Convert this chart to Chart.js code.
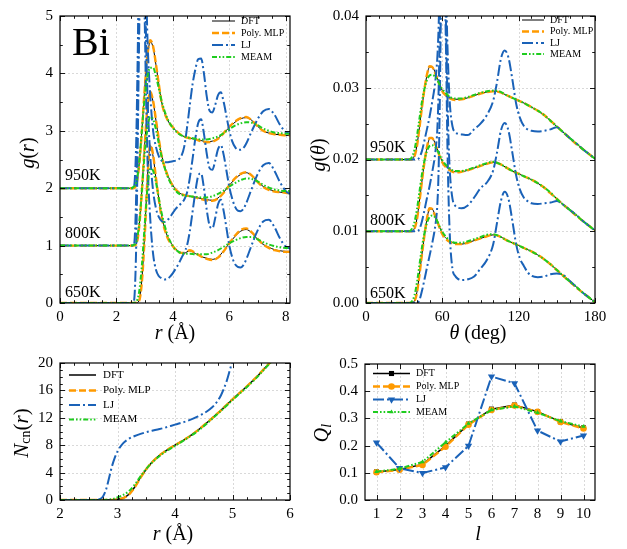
<!DOCTYPE html>
<html>
<head>
<meta charset="utf-8">
<script src="https://cdn.jsdelivr.net/npm/chart.js@4.4.1/dist/chart.umd.min.js"></script>
<style>
  html, body { margin: 0; padding: 0; background: #fff; }
  #wrap { position: relative; width: 627px; height: 549px; overflow: hidden; }
  canvas { position: absolute; }
</style>
</head>
<body>
<div id="wrap">
  <canvas id="pGr" width="310" height="345" style="left:0;top:0"></canvas>
  <canvas id="pGa" width="317" height="345" style="left:310px;top:0"></canvas>
  <canvas id="pNcn" width="310" height="204" style="left:0;top:345px"></canvas>
  <canvas id="pQl" width="317" height="204" style="left:310px;top:345px"></canvas>
</div>
<script>
// ---------------- data ----------------
const modelNames = ['DFT', 'Poly. MLP', 'LJ', 'MEAM'];
const temps = ['650K', '800K', '950K'];

// radial distribution g(r), curves stacked by +1 per temperature
const grOffset = [0, 1, 2];
const rGrid = [0, 2.5, 2.6, 2.7, 2.8, 2.9, 3.0, 3.1, 3.2, 3.3, 3.4, 3.5, 3.6, 3.8, 4.0, 4.2, 4.4, 4.6, 4.8, 5.0,
  5.2, 5.4, 5.6, 5.8, 6.0, 6.2, 6.4, 6.6, 6.8, 7.0, 7.2, 7.4, 7.6, 7.8, 8.0, 8.15];
const grDFT650 = [0, 0, 0, 0, 0.04, 0.4, 1.2, 2.2, 2.74, 2.55, 2.17, 1.82, 1.52, 1.17, 1.0, 0.9, 0.87, 0.91, 0.86, 0.81,
  0.78, 0.76, 0.8, 0.91, 1.04, 1.16, 1.25, 1.28, 1.22, 1.11, 1.02, 0.97, 0.93, 0.91, 0.9, 0.9];
const grMLP650 = [0, 0, 0, 0, 0.03, 0.36, 1.15, 2.18, 2.76, 2.58, 2.18, 1.81, 1.5, 1.15, 0.99, 0.89, 0.87, 0.92, 0.87, 0.81,
  0.77, 0.75, 0.79, 0.9, 1.04, 1.17, 1.27, 1.3, 1.23, 1.12, 1.02, 0.96, 0.92, 0.9, 0.89, 0.89];
const grMEAM650 = [0, 0, 0, 0.02, 0.18, 0.65, 1.35, 2.0, 2.34, 2.3, 2.1, 1.83, 1.57, 1.2, 0.99, 0.89, 0.86, 0.86, 0.85, 0.85,
  0.85, 0.88, 0.92, 0.98, 1.04, 1.09, 1.13, 1.15, 1.15, 1.11, 1.06, 1.02, 0.99, 0.97, 0.96, 0.96];
const grDFT800 = [0, 0, 0, 0.03, 0.32, 0.95, 1.75, 2.38, 2.66, 2.5, 2.18, 1.86, 1.58, 1.25, 1.05, 0.93, 0.88, 0.86, 0.84, 0.82,
  0.8, 0.79, 0.83, 0.93, 1.05, 1.16, 1.24, 1.27, 1.22, 1.12, 1.03, 0.98, 0.95, 0.93, 0.92, 0.91];
const grMLP800 = [0, 0, 0, 0.02, 0.3, 0.93, 1.74, 2.4, 2.68, 2.52, 2.19, 1.86, 1.57, 1.24, 1.04, 0.93, 0.88, 0.86, 0.84, 0.81,
  0.79, 0.78, 0.82, 0.92, 1.05, 1.17, 1.25, 1.28, 1.22, 1.11, 1.02, 0.97, 0.94, 0.93, 0.92, 0.91];
const grMEAM800 = [0, 0, 0.01, 0.06, 0.35, 0.95, 1.6, 2.05, 2.24, 2.2, 2.02, 1.78, 1.55, 1.22, 1.02, 0.91, 0.87, 0.86, 0.85, 0.84,
  0.84, 0.86, 0.9, 0.96, 1.03, 1.09, 1.14, 1.17, 1.16, 1.12, 1.06, 1.01, 0.98, 0.96, 0.95, 0.95];
const grDFT950 = [0, 0, 0, 0.06, 0.4, 1.0, 1.72, 2.3, 2.55, 2.45, 2.15, 1.82, 1.5, 1.2, 1.06, 0.96, 0.9, 0.87, 0.85, 0.83,
  0.81, 0.82, 0.87, 0.96, 1.06, 1.15, 1.21, 1.23, 1.18, 1.08, 1.0, 0.96, 0.94, 0.93, 0.92, 0.92];
const grMLP950 = [0, 0, 0, 0.05, 0.38, 0.98, 1.72, 2.32, 2.58, 2.47, 2.16, 1.82, 1.5, 1.2, 1.06, 0.96, 0.9, 0.87, 0.85, 0.82,
  0.8, 0.81, 0.86, 0.96, 1.07, 1.16, 1.22, 1.24, 1.18, 1.08, 1.0, 0.96, 0.94, 0.93, 0.92, 0.92];
const grMEAM950 = [0, 0, 0.02, 0.1, 0.42, 1.0, 1.58, 1.95, 2.1, 2.1, 1.95, 1.74, 1.52, 1.22, 1.05, 0.95, 0.9, 0.88, 0.86, 0.85,
  0.85, 0.87, 0.9, 0.96, 1.03, 1.09, 1.13, 1.15, 1.14, 1.1, 1.04, 1.0, 0.97, 0.96, 0.95, 0.95];

const rGridLJ = [0, 2.5, 2.6, 2.65, 2.7, 2.75, 2.8, 2.85, 2.9, 2.95, 3.0, 3.05, 3.1,
  3.2, 3.3, 3.4, 3.5, 3.6, 3.7, 3.8, 3.9, 4.0, 4.1, 4.2, 4.3, 4.4, 4.5, 4.6, 4.7, 4.8, 4.9, 5.0, 5.1, 5.2, 5.3, 5.4,
  5.5, 5.6, 5.7, 5.8, 5.9, 6.0, 6.1, 6.2, 6.3, 6.4, 6.5, 6.6, 6.8, 7.0, 7.2, 7.4, 7.6, 7.8, 8.0, 8.15];
const grLJ650 = [0, 0, 0, 0.2, 1.0, 2.6, 4.5, 6.0, 6.6, 6.2, 5.0, 3.6, 2.5,
  1.45, 0.85, 0.58, 0.47, 0.43, 0.41, 0.42, 0.46, 0.52, 0.6, 0.68, 0.78, 0.88, 1.0, 1.25, 1.6, 1.95, 2.22, 2.26, 2.0, 1.62, 1.35, 1.3,
  1.48, 1.72, 1.8, 1.6, 1.3, 1.0, 0.8, 0.68, 0.63, 0.62, 0.66, 0.76, 1.02, 1.26, 1.42, 1.45, 1.32, 1.12, 0.98, 0.95];
const grLJ800 = [0, 0, 0, 0.15, 0.9, 2.4, 4.3, 5.8, 6.4, 6.0, 4.9, 3.6, 2.6,
  1.55, 0.95, 0.65, 0.5, 0.43, 0.41, 0.44, 0.5, 0.57, 0.64, 0.69, 0.74, 0.8, 0.92, 1.18, 1.52, 1.88, 2.14, 2.2, 1.95, 1.6, 1.35, 1.32,
  1.48, 1.68, 1.75, 1.58, 1.3, 1.02, 0.82, 0.68, 0.61, 0.6, 0.64, 0.74, 1.0, 1.24, 1.4, 1.44, 1.3, 1.1, 0.95, 0.9];
const grLJ950 = [0, 0, 0, 0.15, 0.8, 2.2, 4.0, 5.4, 6.0, 5.8, 4.8, 3.6, 2.6,
  1.6, 1.0, 0.72, 0.56, 0.48, 0.45, 0.45, 0.46, 0.47, 0.48, 0.5, 0.56, 0.72, 1.05, 1.45, 1.82, 2.08, 2.25, 2.26, 2.0, 1.6, 1.35, 1.32,
  1.45, 1.62, 1.67, 1.5, 1.25, 1.0, 0.82, 0.72, 0.67, 0.67, 0.7, 0.78, 1.0, 1.2, 1.34, 1.38, 1.28, 1.1, 0.98, 0.95];

// bond-angle distribution g(theta), curves stacked by +0.01 per temperature
const gaOffset = [0, 0.01, 0.02];
const thetaGrid = [0, 34, 36, 38, 40, 42, 44, 46, 48, 50, 52, 54, 56, 58, 60, 63, 66, 70, 75, 80,
  85, 90, 95, 100, 105, 110, 115, 120, 125, 130, 135, 140, 145, 150, 155, 160, 165, 170, 175, 180];
const gaDFT650 = [0, 0, 0, 0.0003, 0.0015, 0.004, 0.0068, 0.0094, 0.0118, 0.0131, 0.0131, 0.0124, 0.0115, 0.0105, 0.0097, 0.009, 0.0086, 0.0083, 0.0082, 0.0084,
  0.0087, 0.009, 0.0093, 0.0095, 0.0093, 0.0088, 0.0084, 0.008, 0.0076, 0.0072, 0.0067, 0.0061, 0.0054, 0.0046, 0.0038, 0.003, 0.0023, 0.0015, 0.0008, 0.0001];
const gaMLP650 = [0, 0, 0, 0.0002, 0.0014, 0.0039, 0.0068, 0.0095, 0.0119, 0.0132, 0.0131, 0.0123, 0.0114, 0.0104, 0.0096, 0.0089, 0.0085, 0.0082, 0.0082, 0.0084,
  0.0087, 0.009, 0.0093, 0.0095, 0.0093, 0.0088, 0.0084, 0.008, 0.0076, 0.0072, 0.0067, 0.0061, 0.0054, 0.0046, 0.0038, 0.003, 0.0022, 0.0015, 0.0008, 0.0001];
const gaMEAM650 = [0, 0, 0.0002, 0.001, 0.0028, 0.0053, 0.0078, 0.0098, 0.0112, 0.012, 0.0122, 0.012, 0.0114, 0.0106, 0.0099, 0.0092, 0.0087, 0.0084, 0.0084, 0.0086,
  0.0089, 0.0092, 0.0095, 0.0096, 0.0093, 0.0088, 0.0084, 0.008, 0.0076, 0.0072, 0.0067, 0.0061, 0.0054, 0.0046, 0.0038, 0.003, 0.0023, 0.0015, 0.0008, 0.0001];
const gaDFT800 = [0, 0, 0, 0.0004, 0.0017, 0.0042, 0.007, 0.0096, 0.0117, 0.0129, 0.013, 0.0124, 0.0115, 0.0105, 0.0097, 0.009, 0.0086, 0.0083, 0.0083, 0.0085,
  0.0088, 0.0091, 0.0094, 0.0096, 0.0094, 0.0089, 0.0084, 0.008, 0.0076, 0.0072, 0.0067, 0.0061, 0.0054, 0.0045, 0.0037, 0.003, 0.0023, 0.0015, 0.0008, 0.0001];
const gaMLP800 = [0, 0, 0, 0.0003, 0.0016, 0.0041, 0.007, 0.0097, 0.0118, 0.013, 0.013, 0.0123, 0.0114, 0.0104, 0.0096, 0.0089, 0.0085, 0.0082, 0.0083, 0.0085,
  0.0088, 0.0091, 0.0094, 0.0096, 0.0094, 0.0089, 0.0084, 0.008, 0.0076, 0.0072, 0.0067, 0.0061, 0.0053, 0.0045, 0.0037, 0.003, 0.0022, 0.0015, 0.0008, 0.0001];
const gaMEAM800 = [0, 0, 0.0003, 0.0012, 0.003, 0.0055, 0.008, 0.0099, 0.0112, 0.0119, 0.012, 0.0118, 0.0113, 0.0106, 0.0099, 0.0092, 0.0087, 0.0084, 0.0084, 0.0086,
  0.0089, 0.0092, 0.0095, 0.0097, 0.0094, 0.0089, 0.0084, 0.008, 0.0076, 0.0072, 0.0067, 0.0061, 0.0054, 0.0045, 0.0037, 0.003, 0.0023, 0.0015, 0.0008, 0.0001];
const gaDFT950 = [0, 0, 0, 0.0005, 0.0019, 0.0045, 0.0073, 0.0098, 0.0118, 0.0129, 0.0129, 0.0123, 0.0114, 0.0104, 0.0096, 0.009, 0.0086, 0.0084, 0.0084, 0.0086,
  0.0089, 0.0092, 0.0094, 0.0095, 0.0094, 0.009, 0.0086, 0.0082, 0.0078, 0.0073, 0.0068, 0.0062, 0.0054, 0.0046, 0.0038, 0.003, 0.0023, 0.0015, 0.0008, 0.0001];
const gaMLP950 = [0, 0, 0, 0.0004, 0.0018, 0.0044, 0.0073, 0.0099, 0.0119, 0.013, 0.0129, 0.0122, 0.0113, 0.0103, 0.0095, 0.0089, 0.0085, 0.0083, 0.0084, 0.0086,
  0.0089, 0.0092, 0.0094, 0.0095, 0.0094, 0.009, 0.0086, 0.0082, 0.0078, 0.0073, 0.0068, 0.0062, 0.0054, 0.0046, 0.0038, 0.003, 0.0022, 0.0015, 0.0008, 0.0001];
const gaMEAM950 = [0, 0, 0.0003, 0.0013, 0.0032, 0.0057, 0.0081, 0.0099, 0.0111, 0.0117, 0.0118, 0.0116, 0.0111, 0.0104, 0.0098, 0.0092, 0.0087, 0.0085, 0.0085, 0.0087,
  0.009, 0.0093, 0.0095, 0.0096, 0.0095, 0.009, 0.0086, 0.0082, 0.0078, 0.0073, 0.0068, 0.0062, 0.0054, 0.0046, 0.0038, 0.003, 0.0023, 0.0015, 0.0008, 0.0001];

const thetaGridLJ = [0, 40, 42, 44, 46, 48, 50, 52, 54, 55, 56, 57, 58, 59, 60, 61, 62, 63, 64, 65,
  66, 68, 70, 72, 75, 80, 85, 90, 95, 100, 103, 106, 109, 112, 115, 118, 121, 124, 127, 130,
  135, 140, 145, 150, 155, 160, 165, 170, 175, 180];
const gaLJ650 = [0, 0, 0.0004, 0.0017, 0.0033, 0.005, 0.0066, 0.0083, 0.0102, 0.0115, 0.0135, 0.018, 0.028, 0.042, 0.05, 0.05, 0.044, 0.034, 0.022, 0.014,
  0.009, 0.0047, 0.0038, 0.0034, 0.0032, 0.0033, 0.0037, 0.0048, 0.006, 0.0082, 0.0112, 0.0142, 0.0155, 0.0145, 0.0115, 0.0082, 0.0062, 0.0052, 0.0043, 0.0038,
  0.0036, 0.0037, 0.004, 0.0041, 0.0039, 0.0031, 0.0023, 0.0015, 0.0008, 0.0001];
const gaLJ800 = [0, 0, 0.0003, 0.0014, 0.003, 0.0047, 0.0063, 0.0082, 0.0103, 0.0118, 0.014, 0.019, 0.028, 0.038, 0.044, 0.043, 0.037, 0.028, 0.019, 0.012,
  0.008, 0.0045, 0.0036, 0.0033, 0.0032, 0.0036, 0.0047, 0.006, 0.0068, 0.0085, 0.011, 0.014, 0.0151, 0.014, 0.011, 0.0078, 0.0058, 0.0047, 0.0042, 0.0039,
  0.0038, 0.0039, 0.004, 0.0042, 0.0037, 0.003, 0.0023, 0.0015, 0.0008, 0.0001];
const gaLJ950 = [0, 0, 0.0003, 0.0012, 0.0027, 0.0043, 0.006, 0.008, 0.0102, 0.0118, 0.014, 0.018, 0.025, 0.032, 0.036, 0.035, 0.03, 0.023, 0.016, 0.011,
  0.0075, 0.0046, 0.0038, 0.0036, 0.0035, 0.0034, 0.0042, 0.005, 0.0062, 0.0082, 0.0108, 0.014, 0.0152, 0.0142, 0.0112, 0.0078, 0.0058, 0.0047, 0.0042, 0.004,
  0.0039, 0.004, 0.0042, 0.0045, 0.0038, 0.003, 0.0023, 0.0015, 0.0008, 0.0001];

// running coordination number N_cn(r)
const ncnR = [2.0, 2.6, 2.7, 2.75, 2.8, 2.85, 2.9, 2.95, 3.0, 3.1, 3.2, 3.3, 3.4, 3.5, 3.6, 3.7, 3.8, 3.9, 4.0, 4.2,
  4.4, 4.6, 4.7, 4.8, 4.9, 5.0, 5.2, 5.4, 5.6, 5.8];
const ncnDFT = [0, 0, 0, 0, 0, 0.01, 0.02, 0.05, 0.11, 0.3, 0.85, 1.9, 3.3, 4.5, 5.5, 6.3, 6.95, 7.5, 8.0, 9.0,
  10.2, 11.6, 12.35, 13.1, 13.9, 14.7, 16.2, 17.8, 19.6, 21.4];
const ncnMLP = [0, 0, 0, 0, 0, 0.01, 0.02, 0.04, 0.1, 0.28, 0.8, 1.85, 3.25, 4.5, 5.5, 6.3, 6.95, 7.5, 8.0, 9.0,
  10.2, 11.6, 12.35, 13.1, 13.9, 14.7, 16.2, 17.8, 19.6, 21.4];
const ncnLJ = [0, 0, 0.15, 0.55, 1.5, 3.1, 4.8, 6.1, 7.1, 8.3, 8.95, 9.35, 9.65, 9.9, 10.1, 10.3, 10.5, 10.75, 11.0, 11.5,
  12.2, 13.2, 14.0, 15.3, 17.4, 20.2, 23.0, 25.0, 27.0, 29.0];
const ncnMEAM = [0, 0, 0, 0, 0.03, 0.06, 0.12, 0.22, 0.38, 0.75, 1.3, 2.25, 3.45, 4.55, 5.45, 6.2, 6.85, 7.4, 7.9, 8.95,
  10.1, 11.5, 12.25, 13.0, 13.8, 14.6, 16.1, 17.7, 19.5, 21.3];

// bond-orientational order parameters Q_l
const lValues = [1, 2, 3, 4, 5, 6, 7, 8, 9, 10];
const qlDFT = [0.103, 0.112, 0.131, 0.199, 0.279, 0.334, 0.349, 0.325, 0.288, 0.265];
const qlMLP = [0.102, 0.111, 0.129, 0.196, 0.277, 0.331, 0.347, 0.324, 0.287, 0.263];
const qlLJ = [0.211, 0.117, 0.099, 0.12, 0.199, 0.454, 0.429, 0.255, 0.215, 0.237];
const qlMEAM = [0.104, 0.115, 0.14, 0.212, 0.281, 0.331, 0.344, 0.321, 0.29, 0.27];

// tick values
const grXTicks = [0, 2, 4, 6, 8];
const grYTicks = [0, 1, 2, 3, 4, 5];
const gaXTicks = [0, 60, 120, 180];
const gaYTicks = [0, 0.01, 0.02, 0.03, 0.04];
const ncnXTicks = [2, 3, 4, 5, 6];
const ncnYTicks = [0, 4, 8, 12, 16, 20];
const qlXTicks = lValues;
const qlYTicks = [0, 0.1, 0.2, 0.3, 0.4, 0.5];

// ---------------- styling ----------------
const SERIF = '"Liberation Serif", "DejaVu Serif", serif';
const it = px => 'italic ' + px + 'px ' + SERIF;
const rm = px => px + 'px ' + SERIF;
Chart.defaults.font.family = SERIF;
Chart.defaults.color = '#000';

const COLORS = { 'DFT': '#000000', 'Poly. MLP': '#ff9a00', 'LJ': '#1a62b8', 'MEAM': '#1fcc1f' };
const STYLE = {
  'DFT':       { borderWidth: 1.0, borderDash: [], order: 4 },
  'Poly. MLP': { borderWidth: 2.4, borderDash: [7, 3], order: 3 },
  'LJ':        { borderWidth: 2.0, borderDash: [11, 3, 2, 3], order: 2 },
  'MEAM':      { borderWidth: 2.0, borderDash: [5, 2, 1.6, 2, 1.6, 2], order: 1 }
};

function pts(xs, ys, off) { return xs.map((x, i) => ({ x: x, y: ys[i] + (off || 0) })); }

function lineSet(model, data, extra) {
  const s = STYLE[model];
  return Object.assign({
    label: model, data: data,
    borderColor: COLORS[model], backgroundColor: COLORS[model],
    borderWidth: s.borderWidth, borderDash: s.borderDash, order: s.order,
    pointRadius: 0, fill: false, cubicInterpolationMode: 'monotone'
  }, extra || {});
}

// ---------------- drawing helpers ----------------
function drawRich(ctx, segs, x, y, opt) {
  opt = opt || {};
  ctx.save();
  ctx.translate(x, y);
  if (opt.rot) ctx.rotate(opt.rot);
  let w = 0;
  segs.forEach(s => { ctx.font = s.f; s.w = ctx.measureText(s.t).width; w += s.w; });
  let cx = opt.align === 'left' ? 0 : -w / 2;
  ctx.textBaseline = opt.baseline || 'middle';
  ctx.textAlign = 'left';
  ctx.fillStyle = '#000';
  segs.forEach(s => { ctx.font = s.f; ctx.fillText(s.t, cx, s.dy || 0); cx += s.w; });
  ctx.restore();
}

function drawMarker(ctx, style, x, y, r, color, rot) {
  ctx.save();
  ctx.fillStyle = color;
  ctx.setLineDash([]);
  ctx.beginPath();
  if (style === 'rect') {
    const h = r * Math.SQRT1_2;
    ctx.rect(x - h, y - h, 2 * h, 2 * h);
  } else if (style === 'circle') {
    ctx.arc(x, y, r, 0, Math.PI * 2);
  } else if (style === 'triangle') {
    let a = (rot || 0) * Math.PI / 180;
    for (let k = 0; k < 3; k++) {
      const px = x + Math.sin(a) * r, py = y - Math.cos(a) * r;
      if (k === 0) ctx.moveTo(px, py); else ctx.lineTo(px, py);
      a += 2 * Math.PI / 3;
    }
    ctx.closePath();
  }
  ctx.fill();
  ctx.restore();
}

// grid, inward ticks on all sides, frame, free text and legend
const decorPlugin = {
  id: 'decor',
  beforeDatasetsDraw(chart, args, o) {
    const { ctx, chartArea: a } = chart;
    const xs = chart.scales.x, ys = chart.scales.y;
    ctx.save();
    ctx.strokeStyle = '#cfcfcf';
    ctx.lineWidth = 0.8;
    ctx.setLineDash([2, 2]);
    ctx.beginPath();
    xs.ticks.forEach(t => {
      const p = Math.round(xs.getPixelForValue(t.value)) + 0.5;
      if (p > a.left + 1 && p < a.right - 1) { ctx.moveTo(p, a.top); ctx.lineTo(p, a.bottom); }
    });
    ys.ticks.forEach(t => {
      const p = Math.round(ys.getPixelForValue(t.value)) + 0.5;
      if (p > a.top + 1 && p < a.bottom - 1) { ctx.moveTo(a.left, p); ctx.lineTo(a.right, p); }
    });
    ctx.stroke();
    ctx.restore();
  },
  afterDatasetsDraw(chart, args, o) {
    const { ctx, chartArea: a } = chart;
    const xs = chart.scales.x, ys = chart.scales.y;
    const major = 5, minor = 2.8;
    ctx.save();
    ctx.setLineDash([]);
    ctx.strokeStyle = '#000';
    ctx.lineWidth = 0.9;
    ctx.beginPath();
    const xTick = (v, len) => {
      const p = Math.round(xs.getPixelForValue(v)) + 0.5;
      ctx.moveTo(p, a.bottom); ctx.lineTo(p, a.bottom - len);
      ctx.moveTo(p, a.top); ctx.lineTo(p, a.top + len);
    };
    const yTick = (v, len) => {
      const p = Math.round(ys.getPixelForValue(v)) + 0.5;
      ctx.moveTo(a.left, p); ctx.lineTo(a.left + len, p);
      ctx.moveTo(a.right, p); ctx.lineTo(a.right - len, p);
    };
    const majX = xs.ticks.map(t => t.value), majY = ys.ticks.map(t => t.value);
    majX.forEach(v => xTick(v, major));
    majY.forEach(v => yTick(v, major));
    const minorLoop = (step, lo, hi, majors, fn) => {
      if (!step) return;
      const n0 = Math.ceil(lo / step - 1e-9), n1 = Math.floor(hi / step + 1e-9);
      for (let n = n0; n <= n1; n++) {
        const v = n * step;
        if (!majors.some(m => Math.abs(m - v) < step * 1e-3)) fn(v, minor);
      }
    };
    minorLoop(o.xMinor, xs.min, xs.max, majX, xTick);
    minorLoop(o.yMinor, ys.min, ys.max, majY, yTick);
    ctx.stroke();
    ctx.lineWidth = 1.2;
    ctx.strokeRect(a.left, a.top, a.right - a.left, a.bottom - a.top);
    ctx.restore();
  },
  afterDraw(chart, args, o) {
    const ctx = chart.ctx;
    const xs = chart.scales.x, ys = chart.scales.y;
    (o.texts || []).forEach(t => {
      let x = t.x, y = t.y;
      if (t.data) { x = xs.getPixelForValue(t.x); y = ys.getPixelForValue(t.y); }
      drawRich(ctx, t.segs, x, y, t);
    });
    const lg = o.legend;
    if (lg) {
      lg.idx.forEach((di, k) => {
        const ds = chart.data.datasets[di];
        const y = lg.ys[k];
        ctx.save();
        ctx.strokeStyle = ds.borderColor;
        ctx.lineWidth = ds.borderWidth;
        ctx.setLineDash(ds.borderDash || []);
        ctx.beginPath();
        ctx.moveTo(lg.x0, y); ctx.lineTo(lg.x1, y);
        ctx.stroke();
        ctx.restore();
        if (ds.pointRadius > 0) {
          drawMarker(ctx, ds.pointStyle, (lg.x0 + lg.x1) / 2, y, ds.pointRadius, ds.borderColor, ds.pointRotation);
        }
        drawRich(ctx, [{ t: ds.label, f: rm(lg.size) }], lg.tx, y, { align: 'left' });
      });
    }
  }
};
Chart.register(decorPlugin);

function axis(min, max, ticks, fmt, fit, pad) {
  return {
    type: 'linear', min: min, max: max, bounds: 'data',
    grid: { display: false, drawTicks: false, tickLength: 0 }, border: { display: false },
    afterBuildTicks: s => { s.ticks = ticks.map(v => ({ value: v })); },
    afterFit: fit,
    ticks: {
      padding: pad, autoSkip: false, maxRotation: 0, color: '#000',
      font: { family: SERIF, size: 15 },
      callback: v => fmt(v)
    }
  };
}

function makeChart(id, datasets, p) {
  return new Chart(document.getElementById(id), {
    type: 'line',
    data: { datasets: datasets },
    options: {
      responsive: false, animation: false, events: [],
      layout: { padding: { left: 0, top: p.top, right: p.right, bottom: 0 } },
      elements: { point: { radius: 0 } },
      plugins: {
        legend: { display: false }, tooltip: { enabled: false },
        decor: { xMinor: p.xMinor, yMinor: p.yMinor, texts: p.texts, legend: p.legend }
      },
      scales: {
        x: axis(p.x[0], p.x[1], p.xTicks, p.xFmt, s => { s.height = p.xH; }, 5),
        y: axis(p.y[0], p.y[1], p.yTicks, p.yFmt, s => { s.width = p.yW; }, 7)
      }
    }
  });
}

// ---------------- panel: g(r) ----------------
const grByTemp = [
  [grDFT650, grMLP650, grLJ650, grMEAM650],
  [grDFT800, grMLP800, grLJ800, grMEAM800],
  [grDFT950, grMLP950, grLJ950, grMEAM950]
];
const grSets = [];
grByTemp.forEach((arr, k) => {
  modelNames.forEach((m, j) => {
    const xsrc = m === 'LJ' ? rGridLJ : rGrid;
    grSets.push(lineSet(m, pts(xsrc, arr[j], grOffset[k])));
  });
});
makeChart('pGr', grSets, {
  top: 10, right: 20, yW: 60, xH: 42,
  x: [0, 8.15], y: [0, 5], xTicks: grXTicks, yTicks: grYTicks,
  xFmt: v => String(v), yFmt: v => String(v),
  xMinor: 0.5, yMinor: 0.5,
  legend: { idx: [0, 1, 2, 3], x0: 212, x1: 235, tx: 241, ys: [21, 33, 45, 57], size: 10 },
  texts: [
    { segs: [{ t: 'Bi', f: rm(40) }], x: 72, y: 55, align: 'left', baseline: 'alphabetic' },
    { segs: [{ t: temps[2], f: rm(16) }], x: 65, y: 180, align: 'left', baseline: 'alphabetic' },
    { segs: [{ t: temps[1], f: rm(16) }], x: 65, y: 238, align: 'left', baseline: 'alphabetic' },
    { segs: [{ t: temps[0], f: rm(16) }], x: 65, y: 297, align: 'left', baseline: 'alphabetic' },
    { segs: [{ t: 'g', f: it(20) }, { t: '(', f: rm(20) }, { t: 'r', f: it(20) }, { t: ')', f: rm(20) }],
      x: 29, y: 153, rot: -Math.PI / 2 },
    { segs: [{ t: 'r', f: it(20) }, { t: ' (Å)', f: rm(20) }], x: 175, y: 334 }
  ]
});

// ---------------- panel: g(theta) ----------------
const gaByTemp = [
  [gaDFT650, gaMLP650, gaLJ650, gaMEAM650],
  [gaDFT800, gaMLP800, gaLJ800, gaMEAM800],
  [gaDFT950, gaMLP950, gaLJ950, gaMEAM950]
];
const gaSets = [];
gaByTemp.forEach((arr, k) => {
  modelNames.forEach((m, j) => {
    const xsrc = m === 'LJ' ? thetaGridLJ : thetaGrid;
    gaSets.push(lineSet(m, pts(xsrc, arr[j], gaOffset[k])));
  });
});
makeChart('pGa', gaSets, {
  top: 10, right: 32, yW: 56, xH: 42,
  x: [0, 180], y: [0, 0.04], xTicks: gaXTicks, yTicks: gaYTicks,
  xFmt: v => String(v), yFmt: v => v.toFixed(2),
  xMinor: 10, yMinor: 0.005,
  legend: { idx: [0, 1, 2, 3], x0: 212, x1: 234, tx: 240, ys: [20, 31.5, 43, 54], size: 10 },
  texts: [
    { segs: [{ t: temps[2], f: rm(16) }], x: 60, y: 152, align: 'left', baseline: 'alphabetic' },
    { segs: [{ t: temps[1], f: rm(16) }], x: 60, y: 225, align: 'left', baseline: 'alphabetic' },
    { segs: [{ t: temps[0], f: rm(16) }], x: 60, y: 298, align: 'left', baseline: 'alphabetic' },
    { segs: [{ t: 'g', f: it(20) }, { t: '(', f: rm(20) }, { t: 'θ', f: it(20) }, { t: ')', f: rm(20) }],
      x: 10, y: 155, rot: -Math.PI / 2 },
    { segs: [{ t: 'θ', f: it(20) }, { t: ' (deg)', f: rm(20) }], x: 168, y: 334 }
  ]
});

// ---------------- panel: N_cn(r) ----------------
const ncnSets = [
  lineSet('DFT', pts(ncnR, ncnDFT), { borderWidth: 1.5 }),
  lineSet('Poly. MLP', pts(ncnR, ncnMLP)),
  lineSet('LJ', pts(ncnR, ncnLJ)),
  lineSet('MEAM', pts(ncnR, ncnMEAM))
];
makeChart('pNcn', ncnSets, {
  top: 18, right: 20, yW: 60, xH: 49,
  x: [2, 6], y: [0, 20], xTicks: ncnXTicks, yTicks: ncnYTicks,
  xFmt: v => String(v), yFmt: v => String(v),
  xMinor: 0.25, yMinor: 1,
  legend: { idx: [0, 1, 2, 3], x0: 69, x1: 96, tx: 103, ys: [30, 45.5, 60, 74.5], size: 11 },
  texts: [
    { segs: [{ t: 'N', f: it(21) }, { t: 'cn', f: rm(14), dy: 4 }, { t: '(', f: rm(21) }, { t: 'r', f: it(21) }, { t: ')', f: rm(21) }],
      x: 22, y: 88, rot: -Math.PI / 2 },
    { segs: [{ t: 'r', f: it(20) }, { t: ' (Å)', f: rm(20) }], x: 173, y: 190 }
  ]
});

// ---------------- panel: Q_l ----------------
const qlSets = [
  lineSet('DFT', pts(lValues, qlDFT), { cubicInterpolationMode: 'default', tension: 0, borderWidth: 1.5, pointRadius: 3.6, pointStyle: 'rect', pointBorderWidth: 0 }),
  lineSet('Poly. MLP', pts(lValues, qlMLP), { cubicInterpolationMode: 'default', tension: 0, pointRadius: 3.3, pointStyle: 'circle', pointBorderWidth: 0 }),
  lineSet('LJ', pts(lValues, qlLJ), { cubicInterpolationMode: 'default', tension: 0, pointRadius: 4.2, pointStyle: 'triangle', pointRotation: 180, pointBorderWidth: 0 }),
  lineSet('MEAM', pts(lValues, qlMEAM), { cubicInterpolationMode: 'default', tension: 0, pointRadius: 2.6, pointStyle: 'triangle', pointBorderWidth: 0 })
];
makeChart('pQl', qlSets, {
  top: 19, right: 32, yW: 55, xH: 49,
  x: [0.5, 10.5], y: [0, 0.5], xTicks: qlXTicks, yTicks: qlYTicks,
  xFmt: v => String(v), yFmt: v => v.toFixed(1),
  xMinor: 0, yMinor: 0,
  legend: { idx: [0, 1, 2, 3], x0: 63, x1: 100, tx: 106, ys: [28.5, 41.5, 54.5, 67], size: 10 },
  texts: [
    { segs: [{ t: 'Q', f: it(20) }, { t: 'l', f: it(14), dy: 4 }], x: 13, y: 88, rot: -Math.PI / 2 },
    { segs: [{ t: 'l', f: it(20) }], x: 168, y: 190 }
  ]
});
</script>
</body>
</html>
